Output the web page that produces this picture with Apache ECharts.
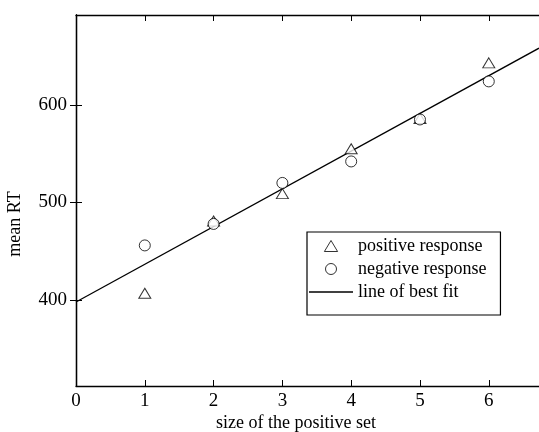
<!DOCTYPE html>
<html>
<head>
<meta charset="utf-8">
<script src="https://cdn.jsdelivr.net/npm/echarts@6/dist/echarts.min.js"></script>
<style>html,body{margin:0;padding:0;background:#fff}#c{width:539px;height:432px}</style>
</head>
<body>
<div id="c"></div>
<script>
const setSizes = [1, 2, 3, 4, 5, 6];
const positiveRT = [407, 481, 509, 555, 586, 643];
const negativeRT = [456, 478, 520, 542, 585, 624];
const fitX = [0, 6.73];
const fitY = [398, 658];
const yTicks = [400, 500, 600];
const seriesNames = ['positive response', 'negative response', 'line of best fit'];

const FONT = '"Liberation Serif", "DejaVu Serif", serif';
const chart = echarts.init(document.getElementById('c'), null, {renderer: 'canvas'});
const axisLine = {show: true, lineStyle: {color: '#000', width: 1.3}};
const markStyle = {color: '#fff', borderColor: '#000', borderWidth: 1};
chart.setOption({
  animation: false,
  backgroundColor: '#fff',
  grid: {left: 76, top: 15, right: -2, bottom: 46},
  title: {
    text: 'size of the positive set', left: 291, top: 409, textAlign: 'center',
    textStyle: {fontFamily: FONT, fontSize: 18, fontWeight: 'normal', color: '#000'}
  },
  graphic: [{
    type: 'text', x: 15, y: 224, rotation: Math.PI / 2,
    style: {text: 'mean RT', font: '18px ' + FONT, fill: '#000', align: 'center', verticalAlign: 'middle'}
  }],
  xAxis: [{
    type: 'value', min: 0, max: 6.73, interval: 1, position: 'bottom',
    axisLine: axisLine, splitLine: {show: false},
    axisTick: {show: true, inside: true, length: 6, lineStyle: {color: '#000'}},
    axisLabel: {fontFamily: FONT, fontSize: 19, color: '#000', margin: 6,
      showMaxLabel: false}
  }, {
    type: 'value', min: 0, max: 6.73, interval: 1, position: 'top',
    axisLine: axisLine, splitLine: {show: false},
    axisTick: {show: true, inside: true, length: 6, lineStyle: {color: '#000'}},
    axisLabel: {show: false}
  }],
  yAxis: [{
    type: 'value', min: 312, max: 692, position: 'left',
    axisLine: axisLine, splitLine: {show: false},
    axisTick: {show: true, inside: true, length: 6, customValues: yTicks, lineStyle: {color: '#000'}},
    axisLabel: {fontFamily: FONT, fontSize: 19, color: '#000', margin: 9, customValues: yTicks}
  }, {
    type: 'value', min: 312, max: 692, position: 'right',
    axisLine: axisLine, splitLine: {show: false},
    axisTick: {show: true, inside: true, length: 6, customValues: yTicks, lineStyle: {color: '#000'}},
    axisLabel: {show: false, customValues: yTicks}
  }],
  legend: {
    orient: 'vertical', left: 307, top: 232,
    borderColor: '#000', borderWidth: 1.2, borderRadius: 0,
    padding: [5, 14, 14, 2], itemGap: 5, itemWidth: 44, itemHeight: 11,
    textStyle: {fontFamily: FONT, fontSize: 18, color: '#000'},
    data: [
      {name: seriesNames[0], icon: 'path://M6 0L12 10L0 10Z', itemStyle: markStyle},
      {name: seriesNames[1], icon: 'path://M5.5 0A5.5 5.5 0 1 1 5.49 0Z', itemStyle: markStyle},
      {name: seriesNames[2], icon: 'path://M0 0H44V1.3H0Z', itemStyle: {color: '#000', borderWidth: 0}}
    ]
  },
  series: [{
    name: seriesNames[0], type: 'scatter', symbol: 'triangle', symbolSize: [12, 10],
    itemStyle: markStyle,
    data: setSizes.map((s, i) => [s, positiveRT[i]])
  }, {
    name: seriesNames[1], type: 'scatter', symbol: 'circle', symbolSize: 11,
    itemStyle: markStyle,
    data: setSizes.map((s, i) => [s, negativeRT[i]])
  }, {
    name: seriesNames[2], type: 'line', symbol: 'none', z: 1,
    lineStyle: {color: '#000', width: 1.3}, itemStyle: {color: '#000'},
    data: fitX.map((x, i) => [x, fitY[i]])
  }]
});
</script>
</body>
</html>
